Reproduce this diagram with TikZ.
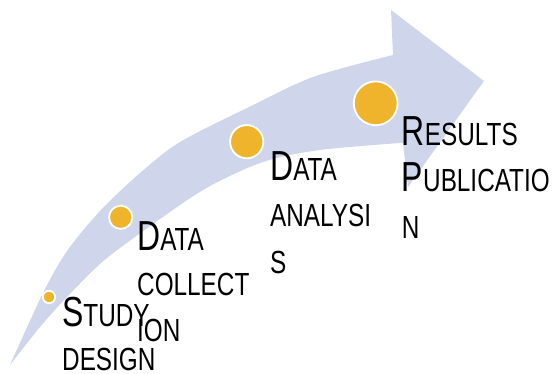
\documentclass[tikz,border=0pt]{standalone}
\usepackage{fontspec}
\newfontfamily\condfont{Liberation Sans}[FakeStretch=0.76]
\definecolor{bandc}{HTML}{CFD6EB}
\definecolor{dotc}{HTML}{EFB42B}
\newcommand\myBig[1]{{\fontsize{42}{46}\selectfont #1}}
\newcommand\mySmall[1]{{\fontsize{32}{46}\selectfont #1}}
\begin{document}
\begin{tikzpicture}[x=1pt,y=-1pt,
  lbl/.style={anchor=base west, inner sep=0pt, font=\condfont},
  dotstyle/.style={circle, fill=dotc, draw=white, line width=1.8pt, inner sep=0pt}]
\clip (0,0) rectangle (554,373);
\fill[bandc] plot[smooth] coordinates {(10,365) (43,293) (67,251) (100,211) (140,173) (180,142) (247,108) (313,77) (393,55)}
  -- (391,10) -- (484,81) -- (408,187) -- (403,143)
  -- plot[smooth] coordinates {(400,143) (320,150) (263,162) (203,190) (135,237) (100,264) (67,297) (40,327) (10,365)} -- cycle;
\node[dotstyle, minimum size=12.4pt] (d1) at (49,297) {};
\node[dotstyle, minimum size=23.2pt] (d2) at (120.7,217.3) {};
\node[dotstyle, minimum size=33.2pt] (d3) at (246.7,141.7) {};
\node[dotstyle, minimum size=43.8pt] (d4) at (375.7,103.3) {};
\node[lbl] (s1) at (62,326) {\myBig{S}\mySmall{TUDY}};
\node[lbl] (s2) at (62,370) {\mySmall{DESIGN}};
\node[lbl] (c1) at (137,250) {\myBig{D}\mySmall{ATA}};
\node[lbl] (c2) at (137,295) {\mySmall{COLLECT}};
\node[lbl] (c3) at (137,341.5) {\mySmall{ION}};
\node[lbl] (a1) at (270,180) {\myBig{D}\mySmall{ATA}};
\node[lbl] (a2) at (270,226.5) {\mySmall{ANALYSI}};
\node[lbl] (a3) at (270,273) {\mySmall{S}};
\node[lbl] (r1) at (401.7,145) {\myBig{R}\mySmall{ESULTS}};
\node[lbl] (r2) at (401.7,191.7) {\myBig{P}\mySmall{UBLICATIO}};
\node[lbl] (r3) at (401.7,238) {\mySmall{N}};
\end{tikzpicture}
\end{document}
